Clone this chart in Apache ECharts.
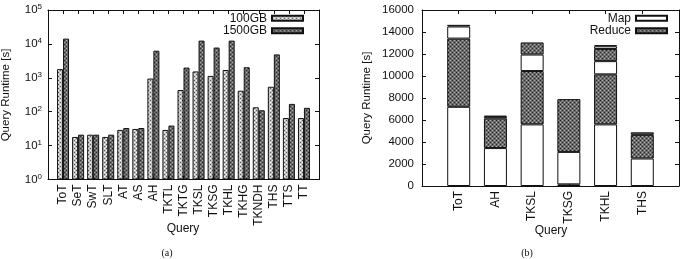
<!DOCTYPE html>
<html>
<head>
<meta charset="utf-8">
<script src="https://cdn.jsdelivr.net/npm/echarts@6/dist/echarts.min.js"></script>
<style>
  html, body { margin: 0; padding: 0; background: #fff; }
  #main { width: 685px; height: 259px; }
</style>
</head>
<body>
<div id="main"></div>
<script>
// (a) runtime per query, log scale
const queryCats = ['ToT', 'SeT', 'SwT', 'SLT', 'AT', 'AS', 'AH', 'TKTL', 'TKTG', 'TKSL', 'TKSG', 'TKHL', 'TKHG', 'TKNDH', 'THS', 'TTS', 'TT'];
const run100GB = [1800, 18, 21, 18, 29, 31, 950, 29, 435, 1540, 1140, 1700, 415, 135, 545, 65, 65];
const run1500GB = [14300, 21, 21, 21, 33, 33, 6300, 39, 2000, 12500, 7800, 12500, 2050, 110, 4900, 170, 130];

// (b) map / reduce phases of the jobs, stacked
const jobCats = ['ToT', 'AH', 'TKSL', 'TKSG', 'TKHL', 'THS'];
const map1 = [7200, 3450, 5600, null, 5600, 2500];
const reduce1 = [6200, 2700, 4850, 150, 4550, 2150];
const map2 = [1100, 150, 1500, 2950, 1200, null];
const reduce2 = [150, 80, 1100, 4800, 1100, 230];
const map3 = [null, null, null, null, 250, null];
const reduce3 = [null, null, null, null, 100, null];

const FONT = 'Liberation Sans, Arial, sans-serif';
const INK = '#111';

// gnuplot-like fill patterns
function pattern(bg, a, b) {
    const c = document.createElement('canvas');
    c.width = 4; c.height = 4;
    const g = c.getContext('2d');
    g.fillStyle = bg; g.fillRect(0, 0, 4, 4);
    g.fillStyle = a; g.fillRect(0, 0, 1, 1); g.fillRect(2, 2, 1, 1);
    g.fillStyle = b; g.fillRect(2, 0, 1, 1); g.fillRect(0, 2, 1, 1);
    return { image: c, repeat: 'repeat' };
}
const lightPat = pattern('#c4c4c4', '#ffffff', '#555555');
const darkPat = pattern('#6a6a6a', '#2a2a2a', '#b0b0b0');

// pad categories so the ticks sit like gnuplot's xrange [-1:n]
const pad = arr => [null, ...arr, null];
const padCats = arr => ['', ...arr, ' '];

const chart = echarts.init(document.getElementById('main'));

const axisLine = () => ({ show: true, onZero: false, lineStyle: { color: INK, width: 1 } });
const tickIn = () => ({ show: true, inside: true, length: 4, lineStyle: { color: INK, width: 1 } });

function catAxis(grid, cats, top) {
    const tick = tickIn();
    tick.interval = 0;
    return {
        type: 'category', gridIndex: grid, data: padCats(cats),
        boundaryGap: false, position: top ? 'top' : 'bottom',
        axisLine: axisLine(),
        axisTick: tick,
        axisLabel: top ? { show: false } : {
            interval: 0, rotate: 90, margin: 5, fontSize: 12,
            color: INK, fontFamily: FONT
        },
        splitLine: { show: false }
    };
}

const barBorder = { borderColor: INK, borderWidth: 1 };

function stackPart(name, data, fill) {
    return {
        type: 'bar', name, xAxisIndex: 2, yAxisIndex: 2, stack: 'job',
        data: pad(data), barWidth: 23,
        itemStyle: Object.assign({ color: fill }, barBorder)
    };
}

function legendAt(names, right) {
    return {
        data: names, right, top: 12, orient: 'vertical', padding: 0,
        align: 'right', icon: 'rect', itemWidth: 31, itemHeight: 5, itemGap: 0,
        textStyle: { fontSize: 12, lineHeight: 12.5, color: INK, fontFamily: FONT }
    };
}

chart.setOption({
    animation: false,
    grid: [
        { left: 48, top: 10, width: 271, height: 169.5 },
        { left: 422, top: 10, width: 260, height: 176 }
    ],
    legend: [legendAt(['100GB', '1500GB'], 381), legendAt(['Map', 'Reduce'], 17)],
    xAxis: [
        catAxis(0, queryCats, false),
        catAxis(0, queryCats, true),
        catAxis(1, jobCats, false),
        catAxis(1, jobCats, true)
    ],
    yAxis: [
        {
            type: 'log', gridIndex: 0, logBase: 10, min: 1, max: 100000,
            axisLine: axisLine(), axisTick: tickIn(), splitLine: { show: false },
            axisLabel: {
                margin: 6, color: INK, fontFamily: FONT,
                formatter: v => '{b|10}{e|' + Math.round(Math.log10(v)) + '}',
                rich: {
                    b: { fontSize: 11.5, lineHeight: 14, fontFamily: FONT, color: INK },
                    e: { fontSize: 8, lineHeight: 14, verticalAlign: 'top', fontFamily: FONT, color: INK }
                }
            }
        },
        {
            type: 'log', gridIndex: 0, logBase: 10, min: 1, max: 100000, position: 'right',
            axisLine: axisLine(), axisTick: tickIn(),
            axisLabel: { show: false }, splitLine: { show: false }
        },
        {
            type: 'value', gridIndex: 1, min: 0, max: 16000, interval: 2000,
            axisLine: axisLine(), axisTick: tickIn(), splitLine: { show: false },
            axisLabel: { margin: 8, fontSize: 11.5, color: INK, fontFamily: FONT, formatter: v => String(v) }
        },
        {
            type: 'value', gridIndex: 1, min: 0, max: 16000, interval: 2000, position: 'right',
            axisLine: axisLine(), axisTick: tickIn(),
            axisLabel: { show: false }, splitLine: { show: false }
        }
    ],
    series: [
        {
            type: 'bar', name: '100GB', xAxisIndex: 0, yAxisIndex: 0,
            data: pad(run100GB), barWidth: 6, barGap: '0%',
            itemStyle: Object.assign({ color: lightPat }, barBorder)
        },
        {
            type: 'bar', name: '1500GB', xAxisIndex: 0, yAxisIndex: 0,
            data: pad(run1500GB), barWidth: 6, barGap: '0%',
            itemStyle: Object.assign({ color: darkPat }, barBorder)
        },
        stackPart('Map', map1, '#ffffff'),
        stackPart('Reduce', reduce1, darkPat),
        stackPart('Map', map2, '#ffffff'),
        stackPart('Reduce', reduce2, darkPat),
        stackPart('Map', map3, '#ffffff'),
        stackPart('Reduce', reduce3, darkPat)
    ],
    graphic: [
        { type: 'text', x: 6, y: 95, rotation: Math.PI / 2,
          style: { text: 'Query Runtime [s]', font: '11.5px ' + FONT, fill: INK, textAlign: 'center', textVerticalAlign: 'middle' } },
        { type: 'text', x: 367, y: 98, rotation: Math.PI / 2,
          style: { text: 'Query Runtime [s]', font: '11.5px ' + FONT, fill: INK, textAlign: 'center', textVerticalAlign: 'middle' } },
        { type: 'text', x: 183, y: 229,
          style: { text: 'Query', font: '12px ' + FONT, fill: INK, textAlign: 'center', textVerticalAlign: 'middle' } },
        { type: 'text', x: 551, y: 231,
          style: { text: 'Query', font: '12px ' + FONT, fill: INK, textAlign: 'center', textVerticalAlign: 'middle' } },
        { type: 'text', x: 167, y: 253,
          style: { text: '(a)', font: '10px Liberation Serif, serif', fill: INK, textAlign: 'center', textVerticalAlign: 'middle' } },
        { type: 'text', x: 527, y: 253,
          style: { text: '(b)', font: '10px Liberation Serif, serif', fill: INK, textAlign: 'center', textVerticalAlign: 'middle' } }
    ]
});
</script>
</body>
</html>
